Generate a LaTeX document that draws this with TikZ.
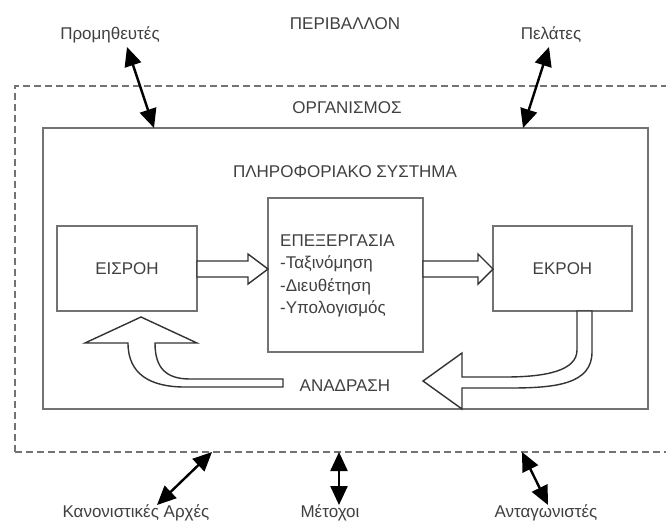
\documentclass[tikz,border=0pt]{standalone}
\usepackage{fontspec}
\setmainfont{Liberation Sans}
\usetikzlibrary{arrows.meta}
\begin{document}
\begin{tikzpicture}[x=1pt,y=-1pt,
  txt/.style={text=black!75, font=\fontsize{17}{22.5}\selectfont, inner sep=0pt},
  boxline/.style={draw=black!55, line width=1.3pt},
  blockarrow/.style={draw=black!80, line width=1.4pt, fill=white, line join=miter},
  dblarrow/.style={draw=black, line width=2.4pt, {Triangle[length=19pt,width=17pt]}-{Triangle[length=19pt,width=17pt]}},
  envline/.style={draw=black!55, line width=1.2pt, dash pattern=on 7pt off 4pt}]
\clip (0,0) rectangle (666,523);
\fill[white] (0,0) rectangle (666,523);

% environment (dashed) box
\draw[envline] (15,452) -- (15,86) -- (690,86);
\draw[envline] (15,452) -- (690,452);

% texts of environment
\node[txt] (env) at (345,24) {ΠΕΡΙΒΑΛΛΟΝ};
\node[txt] (sup) at (110,35) {Προμηθευτές};
\node[txt] (cli) at (551,35) {Πελάτες};
\node[txt] (org) at (347,108) {ΟΡΓΑΝΙΣΜΟΣ};
\node[txt] (reg) at (136,513) {Κανονιστικές Αρχές};
\node[txt] (sha) at (330,513) {Μέτοχοι};
\node[txt] (com) at (546,513) {Ανταγωνιστές};

% organisation / information system box
\node[boxline, minimum width=605pt, minimum height=281pt, inner sep=0pt] (sys) at (345.5,268.5) {};
\node[txt] (syst) at (345,172) {ΠΛΗΡΟΦΟΡΙΑΚΟ ΣΥΣΤΗΜΑ};

% inner boxes
\node[boxline, txt, minimum width=140pt, minimum height=85pt] (in) at (127,268.5) {ΕΙΣΡΟΗ};
\node[boxline, minimum width=155pt, minimum height=154pt, inner sep=0pt] (proc) at (345.5,275) {};
\node[txt, align=left, anchor=west] (proct) at (280,276) {ΕΠΕΞΕΡΓΑΣΙΑ\\-Ταξινόμηση\\-Διευθέτηση\\-Υπολογισμός};
\node[boxline, txt, minimum width=139pt, minimum height=85pt] (out) at (562.5,268.5) {ΕΚΡΟΗ};

% block arrows
\draw[blockarrow] (197,261) -- (248,261) -- (248,254) -- (268,269) -- (248,284) -- (248,277) -- (197,277) -- cycle;
\draw[blockarrow] (423,261) -- (478,261) -- (478,254) -- (493,269) -- (478,284) -- (478,277) -- (423,277) -- cycle;

% feedback arrows
\draw[blockarrow] (283,379) -- (190,379) .. controls (166,379) and (155,368) .. (155,343)
  -- (197,343) -- (141,317) -- (85,343) -- (128,343)
  .. controls (128,374) and (150,387) .. (185,387) -- (283,387) -- cycle;
\draw[blockarrow] (577,311) -- (577,350) .. controls (577,371) and (545,377) .. (505,377)
  -- (462,377) -- (462,353) -- (423,381) -- (462,409) -- (462,388) -- (510,388)
  .. controls (556,388) and (592,384) .. (592,352) -- (592,311) -- cycle;
\node[txt] (fb) at (345,386) {ΑΝΑΔΡΑΣΗ};

% double arrows to environment
\coordinate (supE) at (127,47);
\coordinate (supB) at (154,128);
\coordinate (cliE) at (549,47);
\coordinate (cliB) at (523,128);
\coordinate (regB) at (212,452);
\coordinate (regE) at (157,505);
\coordinate (shaB) at (339,452);
\coordinate (shaE) at (339,505);
\coordinate (comB) at (522,452);
\coordinate (comE) at (548,505);
\draw[dblarrow] (supE) -- (supB);
\draw[dblarrow] (cliE) -- (cliB);
\draw[dblarrow] (regB) -- (regE);
\draw[dblarrow] (shaB) -- (shaE);
\draw[dblarrow] (comB) -- (comE);
\end{tikzpicture}
\end{document}
